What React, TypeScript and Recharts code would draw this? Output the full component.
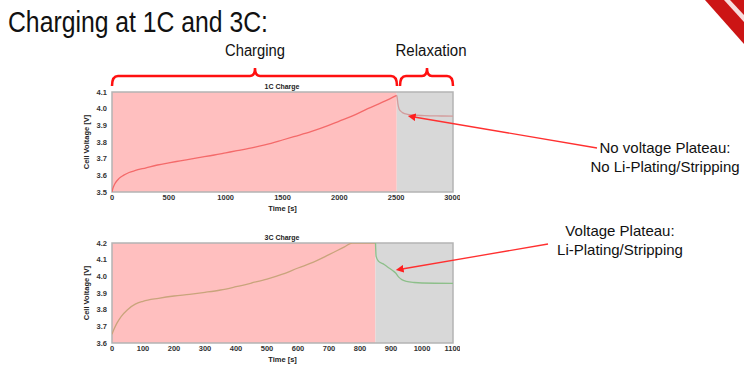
import { ComposedChart, Line, XAxis, YAxis, ReferenceArea } from 'recharts';

// 1C charge: charging phase and relaxation phase
const c1ChargeTime = [0, 5, 15, 30, 60, 100, 150, 200, 300, 400, 500, 600, 750, 900, 1000, 1100, 1250, 1400, 1500, 1600, 1750, 1900, 2000, 2100, 2250, 2400, 2505];
const c1ChargeVolt = [3.5, 3.515, 3.535, 3.555, 3.58, 3.6, 3.617, 3.628, 3.645, 3.662, 3.675, 3.687, 3.705, 3.722, 3.735, 3.748, 3.768, 3.792, 3.812, 3.832, 3.862, 3.898, 3.925, 3.952, 4.0, 4.045, 4.08];
const c1RelaxTime = [2505, 2510, 2515, 2525, 2540, 2560, 2600, 2650, 2750, 2900, 3000];
const c1RelaxVolt = [4.08, 4.06, 4.03, 4.0, 3.985, 3.975, 3.966, 3.962, 3.958, 3.956, 3.955];

// 3C charge
const c3ChargeTime = [0, 5, 15, 30, 50, 75, 100, 150, 200, 250, 300, 350, 400, 450, 500, 550, 600, 650, 700, 750, 775, 850];
const c3ChargeVolt = [3.652, 3.676, 3.716, 3.76, 3.8, 3.833, 3.85, 3.868, 3.882, 3.892, 3.904, 3.918, 3.938, 3.96, 3.983, 4.013, 4.05, 4.085, 4.13, 4.177, 4.2, 4.2];
const c3RelaxTime = [850, 852, 860, 875, 890, 905, 915, 925, 935, 950, 975, 1000, 1100];
const c3RelaxVolt = [4.2, 4.12, 4.09, 4.075, 4.055, 4.035, 4.02, 3.995, 3.98, 3.97, 3.963, 3.96, 3.958];

const c1XTicks = [0, 500, 1000, 1500, 2000, 2500, 3000];
const c1YTicks = [3.5, 3.6, 3.7, 3.8, 3.9, 4.0, 4.1];
const c3XTicks = [0, 100, 200, 300, 400, 500, 600, 700, 800, 900, 1000, 1100];
const c3YTicks = [3.6, 3.7, 3.8, 3.9, 4.0, 4.1, 4.2];

const toPoints = (t: number[], v: number[]) => t.map((x, i) => ({ t: x, v: v[i] }));

const FONT = 'Liberation Sans, Arial, sans-serif';
const tickStyle = { fontSize: 7.5, fill: '#333', fontWeight: 700, fontFamily: FONT };

interface PanelProps {
  top: number;
  xMax: number;
  yMin: number;
  yMax: number;
  xTicks: number[];
  yTicks: number[];
  chargeEnd: number;
  charge: { t: number; v: number }[];
  relax: { t: number; v: number }[];
  chargeColor: string;
  relaxColor: string;
}

function Panel(p: PanelProps) {
  return (
    <div style={{ position: 'absolute', left: 80, top: p.top }}>
      <ComposedChart width={380} height={135} margin={{ top: 12, right: 7, bottom: 0, left: 0 }}>
        <XAxis
          type="number"
          dataKey="t"
          domain={[0, p.xMax]}
          ticks={p.xTicks}
          allowDataOverflow
          height={23}
          tickLine={false}
          axisLine={false}
          tickSize={0}
          tickMargin={3}
          tick={tickStyle}
          label={{ value: 'Time [s]', position: 'insideBottom', offset: 4, style: { ...tickStyle, fill: '#222' } }}
        />
        <YAxis
          type="number"
          dataKey="v"
          domain={[p.yMin, p.yMax]}
          ticks={p.yTicks}
          allowDataOverflow
          width={32}
          tickLine={false}
          axisLine={false}
          tickSize={0}
          tickMargin={5}
          tick={tickStyle}
          tickFormatter={(v: number) => v.toFixed(1)}
          label={{ value: 'Cell Voltage [V]', angle: -90, position: 'insideLeft', offset: 6, style: { ...tickStyle, fill: '#222', textAnchor: 'middle' } }}
        />
        <ReferenceArea x1={0} x2={p.chargeEnd} y1={p.yMin} y2={p.yMax} fill="#ffbfbf" fillOpacity={1} stroke="none" />
        <ReferenceArea x1={p.chargeEnd} x2={p.xMax} y1={p.yMin} y2={p.yMax} fill="#d8d8d8" fillOpacity={1} stroke="none" />
        <ReferenceArea x1={0} x2={p.xMax} y1={p.yMin} y2={p.yMax} fill="none" stroke="#b4b4b4" strokeWidth={1.5} />
        <Line data={p.charge} dataKey="v" type="monotone" stroke={p.chargeColor} strokeWidth={1.3} dot={false} isAnimationActive={false} />
        <Line data={p.relax} dataKey="v" type="monotone" stroke={p.relaxColor} strokeWidth={1.3} dot={false} isAnimationActive={false} />
      </ComposedChart>
    </div>
  );
}

const brace = (x1: number, x2: number, mid: number, y: number) =>
  `M${x1},${y + 10} Q${x1},${y} ${x1 + 6},${y} L${mid - 5},${y} Q${mid},${y} ${mid},${y - 8} Q${mid},${y} ${mid + 5},${y} L${x2 - 6},${y} Q${x2},${y} ${x2},${y + 10}`;

export default function App() {
  return (
    <div style={{ position: 'absolute', left: 0, top: 0, width: 744, height: 365, background: '#fff', overflow: 'hidden', fontFamily: FONT }}>
      <Panel
        top={80}
        xMax={3000}
        yMin={3.5}
        yMax={4.1}
        xTicks={c1XTicks}
        yTicks={c1YTicks}
        chargeEnd={2505}
        charge={toPoints(c1ChargeTime, c1ChargeVolt)}
        relax={toPoints(c1RelaxTime, c1RelaxVolt)}
        chargeColor="#f46a6a"
        relaxColor="#d39c9c"
      />
      <Panel
        top={231}
        xMax={1100}
        yMin={3.6}
        yMax={4.2}
        xTicks={c3XTicks}
        yTicks={c3YTicks}
        chargeEnd={850}
        charge={toPoints(c3ChargeTime, c3ChargeVolt)}
        relax={toPoints(c3RelaxTime, c3RelaxVolt)}
        chargeColor="#c9a47c"
        relaxColor="#8dbf8a"
      />
      <svg width={744} height={365} style={{ position: 'absolute', left: 0, top: 0, pointerEvents: 'none' }}>
        <defs>
          <marker id="ah" viewBox="0 0 10 10" refX="2" refY="5" markerWidth="6" markerHeight="6" orient="auto-start-reverse">
            <path d="M0,0 L10,5 L0,10 z" fill="#ff1f1f" />
          </marker>
        </defs>
        <polygon points="705,0 744,0 744,44" fill="#cc1515" />
        <polygon points="724,0 730,0 744,15 744,22" fill="#fff" opacity={0.85} />
        <text x={8} y={32} fontSize={30} textLength={260} lengthAdjust="spacingAndGlyphs" fill="#111">Charging at 1C and 3C:</text>
        <text x={255} y={56} fontSize={16} textAnchor="middle" textLength={60} lengthAdjust="spacingAndGlyphs" fill="#111">Charging</text>
        <text x={431} y={56} fontSize={16} textAnchor="middle" textLength={71} lengthAdjust="spacingAndGlyphs" fill="#111">Relaxation</text>
        <path d={brace(112, 397, 255, 76)} fill="none" stroke="#ff1010" strokeWidth={2.5} />
        <path d={brace(400, 453, 427, 76)} fill="none" stroke="#ff1010" strokeWidth={2.5} />
        <text x={282} y={89} fontSize={7} textAnchor="middle" fill="#222" fontWeight={700}>1C Charge</text>
        <text x={282} y={240} fontSize={7} textAnchor="middle" fill="#222" fontWeight={700}>3C Charge</text>
        <line x1={597} y1={148} x2={414} y2={117} stroke="#ff3030" strokeWidth={1.3} markerEnd="url(#ah)" />
        <line x1={548} y1={244} x2={402} y2={269} stroke="#ff3030" strokeWidth={1.3} markerEnd="url(#ah)" />
        <text x={665} y={153} fontSize={15} textAnchor="middle" fill="#111">No voltage Plateau:</text>
        <text x={665} y={172} fontSize={15} textAnchor="middle" fill="#111">No Li-Plating/Stripping</text>
        <text x={620} y={236} fontSize={15} textAnchor="middle" fill="#111">Voltage Plateau:</text>
        <text x={620} y={255} fontSize={15} textAnchor="middle" fill="#111">Li-Plating/Stripping</text>
      </svg>
    </div>
  );
}
